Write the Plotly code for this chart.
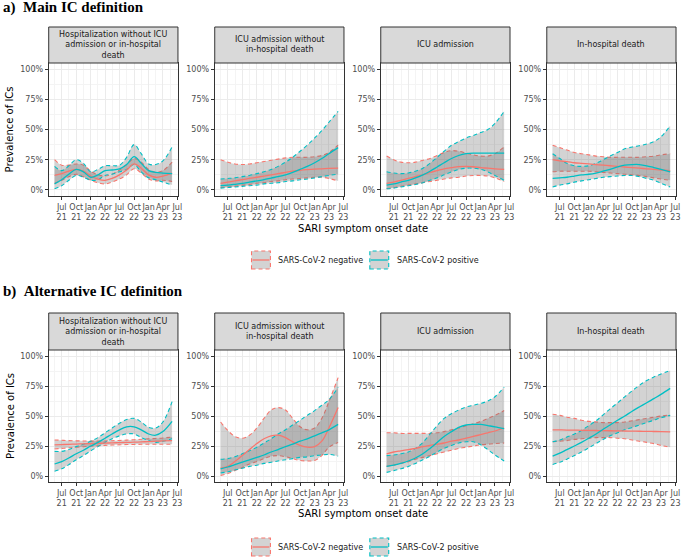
import plotly.graph_objects as go

# ---------------- data ----------------
dates = ["2021-05-17", "2021-07-01", "2021-08-15", "2021-10-01", "2021-11-15",
         "2022-01-01", "2022-02-15", "2022-04-01", "2022-05-15", "2022-07-01",
         "2022-08-15", "2022-10-01", "2022-11-15", "2023-01-01", "2023-02-15",
         "2023-04-01", "2023-05-29"]

facet_titles = ["Hospitalization without ICU<br>admission or in-hospital<br>death",
                "ICU admission without<br>in-hospital death",
                "ICU admission",
                "In-hospital death"]

section_titles = ["<b>a)&nbsp;&nbsp;Main IC definition</b>",
                  "<b>b)&nbsp;&nbsp;Alternative IC definition</b>"]

series_names = ["SARS-CoV-2 negative", "SARS-CoV-2 positive"]

x_tickvals = ["2021-07-01", "2021-10-01", "2022-01-01", "2022-04-01", "2022-07-01",
              "2022-10-01", "2023-01-01", "2023-04-01", "2023-07-01"]
x_ticktext = ["Jul<br>21", "Oct<br>21", "Jan<br>22", "Apr<br>22", "Jul<br>22",
              "Oct<br>22", "Jan<br>23", "Apr<br>23", "Jul<br>23"]
x_minorvals = ["2021-05-16", "2021-08-16", "2021-11-16", "2022-02-15", "2022-05-16",
               "2022-08-16", "2022-11-16", "2023-02-15", "2023-05-16"]
y_tickvals = [0, 25, 50, 75, 100]
y_ticktext = ["0%", "25%", "50%", "75%", "100%"]
y_minorvals = [12.5, 37.5, 62.5, 87.5]

# Main definition -------------------------------------------------
main_hosp_neg_mean = [12, 13.5, 15.5, 17, 15.5, 11.5, 9, 8, 9.5, 12.5, 16.5, 21.5, 18, 12.5, 10.5, 11.5, 14]
main_hosp_neg_hi   = [25, 20.5, 20.5, 21.5, 20.5, 15.5, 12.5, 11.5, 13, 16.5, 21, 26, 23, 17, 14.5, 16, 23]
main_hosp_neg_lo   = [5.5, 8, 11, 13, 11, 8, 6, 5, 6.5, 9, 12.5, 17.5, 14, 9, 7.5, 8, 7]
main_hosp_pos_mean = [5, 8.5, 13, 17, 15, 10.5, 12.5, 16, 16.5, 17.5, 21, 27.5, 22, 16, 14.5, 14, 13.5]
main_hosp_pos_hi   = [19.5, 16, 20, 25, 22, 15, 17, 20, 20, 20.5, 27, 37.5, 30, 21.5, 21, 24, 35.5]
main_hosp_pos_lo   = [1, 3.5, 8, 12, 10.5, 8, 8.5, 12, 13, 15, 17, 21, 15, 10, 8.5, 6.5, 4]

main_icu_nd_neg_mean = [5.5, 6.5, 7.5, 8.5, 9.5, 10.5, 11.5, 12.5, 13.5, 14.5, 15.5, 16.3, 16.8, 17.2, 17.5, 17.8, 18]
main_icu_nd_neg_hi   = [25, 23, 21.5, 21, 21.5, 22.5, 23.5, 24.5, 25.5, 26.5, 27, 27, 27, 27.5, 28.5, 31, 37]
main_icu_nd_neg_lo   = [2, 2.5, 3, 4, 4.5, 5.5, 6, 7, 7.5, 8.5, 9, 9.5, 10, 10.5, 10.5, 9.5, 7.5]
main_icu_nd_pos_mean = [3.5, 4, 4.7, 5.5, 6.5, 7.5, 8.5, 9.8, 11, 12.5, 14.5, 17, 19.5, 22.5, 26, 30, 35]
main_icu_nd_pos_hi   = [9, 9.5, 10, 11, 12, 13.5, 15, 17, 19.5, 23, 27, 32, 37, 43, 49, 56, 65]
main_icu_nd_pos_lo   = [1.5, 2, 2.5, 3, 3.5, 4, 5, 5.5, 6, 7, 7.5, 8.5, 9, 10, 11, 12, 13]

main_icu_neg_mean = [5.5, 6.5, 8, 9.5, 11, 12.5, 14.5, 16, 17.5, 18.5, 19.3, 19.5, 19.2, 18.5, 18, 17.5, 17]
main_icu_neg_hi   = [28, 25, 23, 22.5, 23, 24.5, 26, 28.5, 31, 32.5, 32, 30.5, 29, 28, 28, 30, 35.5]
main_icu_neg_lo   = [1, 2, 3, 4, 5, 6, 7, 8, 9, 10, 10.5, 11.5, 12, 12, 11.5, 10, 7]
main_icu_pos_mean = [4, 5, 6.5, 8, 10, 12.5, 15.5, 19, 22.5, 26, 28.5, 30, 30.5, 30.5, 30.5, 30.5, 30.5]
main_icu_pos_hi   = [15, 14, 13.5, 14, 15.5, 18, 22, 27, 32, 37, 40, 43, 45, 47.5, 50, 55, 65]
main_icu_pos_lo   = [1, 1.5, 2.5, 3.5, 4.5, 6, 8, 10, 12.5, 15, 17, 18, 18, 17, 15, 12, 8]

main_death_neg_mean = [25, 24, 23.5, 22.5, 22, 21.5, 21, 20.5, 20, 19.5, 19, 18.5, 18, 17.5, 17, 16.5, 16]
main_death_neg_hi   = [37, 35, 33, 31, 30, 29, 28, 27.5, 27, 27, 27, 27, 27, 27.5, 28, 29, 30]
main_death_neg_lo   = [15, 15.5, 15.5, 15.5, 15.5, 15.5, 15, 14.5, 14, 13.5, 13, 12.5, 12, 11, 10, 9, 8]
main_death_pos_mean = [9.5, 10, 10.5, 11.5, 12.5, 13, 14, 15.5, 17, 19, 20.5, 21, 21, 20, 18.5, 17, 15]
main_death_pos_hi   = [30, 26, 22, 20, 19.5, 20, 22, 25, 28, 31, 34, 35.5, 36.5, 38, 40, 44, 53]
main_death_pos_lo   = [2.5, 4, 5, 6.5, 7.5, 8.5, 9.5, 10.5, 11, 11.5, 12, 12, 11, 9.5, 8, 5.5, 2.5]

# Alternative definition -----------------------------------------
alt_hosp_neg_mean = [26, 26.2, 26.4, 26.6, 26.8, 27, 27.2, 27.4, 27.6, 27.8, 28, 28.2, 28.4, 28.7, 29, 29.2, 29.5]
alt_hosp_neg_hi   = [30, 29.8, 29.5, 29.3, 29.2, 29.1, 29.1, 29.2, 29.4, 29.6, 29.9, 30.2, 30.6, 31, 31.3, 31.7, 32.5]
alt_hosp_neg_lo   = [22.5, 23, 23.5, 24, 24.4, 24.8, 25.2, 25.5, 25.8, 26, 26.2, 26.3, 26.4, 26.5, 26.5, 26.5, 26.5]
alt_hosp_pos_mean = [10, 12, 15, 18.5, 21.5, 25, 28, 31.5, 35, 38.5, 41, 41, 38.5, 35, 34, 37, 45.5]
alt_hosp_pos_hi   = [20.5, 20.5, 22, 24.5, 26.5, 29, 32, 36, 40, 44, 47, 48, 45, 40.5, 40, 45, 62]
alt_hosp_pos_lo   = [4, 6, 9.5, 13.5, 17, 21, 24.5, 28, 31, 33.5, 35, 35, 32, 29.5, 28, 29, 31]

alt_icu_nd_neg_mean = [6.5, 8, 12, 17, 22, 27, 31, 33.5, 34, 32, 28.5, 25.5, 24, 24.5, 29, 40, 57]
alt_icu_nd_neg_hi   = [45, 38, 33, 31.5, 34, 40, 48, 55, 57, 55, 48, 41, 38.5, 40, 48, 62, 82]
alt_icu_nd_neg_lo   = [0.5, 2, 4.5, 7, 10, 12, 14.5, 16.5, 17, 16, 14.5, 13, 12.5, 13, 17, 24, 28]
alt_icu_nd_pos_mean = [6, 7.5, 9.5, 11.5, 13.5, 15.5, 17.5, 20, 22, 24.5, 26.5, 29, 31, 33.5, 36, 38.5, 43]
alt_icu_nd_pos_hi   = [14, 14.5, 16, 18.5, 21, 24, 27.5, 31, 35, 38.5, 42.5, 46.5, 50.5, 54.5, 59, 63.5, 74]
alt_icu_nd_pos_lo   = [2.5, 3.5, 5, 6.5, 8, 9, 10.5, 11.5, 12.5, 13.5, 14.5, 15.5, 16, 17, 17.5, 18, 16.5]

alt_icu_neg_mean = [18.5, 20, 21, 22, 23, 24.5, 25.5, 26.5, 27.5, 29, 30, 31.5, 33, 34.5, 36, 37.5, 40]
alt_icu_neg_hi   = [36, 36, 35.5, 35.5, 35.5, 35.5, 35.5, 36, 37, 38.5, 40, 42, 43.5, 45.5, 48, 50.5, 54.5]
alt_icu_neg_lo   = [8, 9, 10.5, 12, 14, 15.5, 17, 18.5, 20, 21.5, 23, 24, 25, 26, 26.5, 27, 27.5]
alt_icu_pos_mean = [8, 9, 10.5, 12.5, 15, 18.5, 23, 28, 33, 37, 40.5, 42.5, 43, 43, 42, 41, 39.5]
alt_icu_pos_hi   = [17, 17.5, 18.5, 20, 23, 28, 35, 42, 48, 52, 55, 57.5, 59, 60.5, 62.5, 66, 74]
alt_icu_pos_lo   = [3, 4.5, 6, 8, 10.5, 13.5, 16.5, 20, 23, 25.5, 27.5, 28.5, 28.5, 26, 22, 17.5, 12.5]

alt_death_neg_mean = [38.5, 38.4, 38.3, 38.2, 38.1, 38, 37.9, 37.8, 37.7, 37.6, 37.5, 37.4, 37.3, 37.2, 37.1, 37, 36.8]
alt_death_neg_hi   = [51.5, 50.5, 49, 48, 46.5, 45.5, 45, 44.5, 44.5, 44.5, 45, 46, 47, 48, 49, 50, 51]
alt_death_neg_lo   = [28.5, 29, 29.5, 30.5, 31, 31.5, 32, 32, 32, 31.5, 31, 30, 29, 28, 27, 25.5, 24]
alt_death_pos_mean = [16.5, 19, 22, 25, 28, 31.5, 35, 39, 42.5, 46.5, 50, 54, 57.5, 61, 64.5, 68, 73]
alt_death_pos_hi   = [28.5, 30, 32.5, 35, 38, 42, 46, 51, 56, 61, 66, 71, 75.5, 79.5, 82.5, 85, 88]
alt_death_pos_lo   = [9.5, 11.5, 14, 17, 20, 23.5, 27, 30.5, 33.5, 36, 38.5, 40.5, 42.5, 44.5, 46.5, 48.5, 50.5]

panels_main = [
    (main_hosp_neg_mean, main_hosp_neg_lo, main_hosp_neg_hi, main_hosp_pos_mean, main_hosp_pos_lo, main_hosp_pos_hi),
    (main_icu_nd_neg_mean, main_icu_nd_neg_lo, main_icu_nd_neg_hi, main_icu_nd_pos_mean, main_icu_nd_pos_lo, main_icu_nd_pos_hi),
    (main_icu_neg_mean, main_icu_neg_lo, main_icu_neg_hi, main_icu_pos_mean, main_icu_pos_lo, main_icu_pos_hi),
    (main_death_neg_mean, main_death_neg_lo, main_death_neg_hi, main_death_pos_mean, main_death_pos_lo, main_death_pos_hi),
]
panels_alt = [
    (alt_hosp_neg_mean, alt_hosp_neg_lo, alt_hosp_neg_hi, alt_hosp_pos_mean, alt_hosp_pos_lo, alt_hosp_pos_hi),
    (alt_icu_nd_neg_mean, alt_icu_nd_neg_lo, alt_icu_nd_neg_hi, alt_icu_nd_pos_mean, alt_icu_nd_pos_lo, alt_icu_nd_pos_hi),
    (alt_icu_neg_mean, alt_icu_neg_lo, alt_icu_neg_hi, alt_icu_pos_mean, alt_icu_pos_lo, alt_icu_pos_hi),
    (alt_death_neg_mean, alt_death_neg_lo, alt_death_neg_hi, alt_death_pos_mean, alt_death_pos_lo, alt_death_pos_hi),
]

# ---------------- styling / layout ----------------
W, H = 685, 557
RED, TEAL = "#F8766D", "#00BFC4"
RIBBON = "rgba(110,110,110,0.30)"
FONT = "DejaVu Sans"
panel_left = [49, 216, 383, 550]
panel_w = 130
sections = [
    dict(strip_top=27, top=63, bottom=196, title_y=7, xtitle_y=228, leg_y=260, data=panels_main),
    dict(strip_top=313, top=350, bottom=482, title_y=291, xtitle_y=513, leg_y=547, data=panels_alt),
]


def px(x):
    return x / W


def py(y):
    return 1 - y / H


fig = go.Figure()
shapes, annotations = [], []
layout_axes = {}

idx = 0
for s_i, sec in enumerate(sections):
    for p_i in range(4):
        idx += 1
        xa = "x" if idx == 1 else f"x{idx}"
        ya = "y" if idx == 1 else f"y{idx}"
        nm, nlo, nhi, pm, plo, phi = sec["data"][p_i]
        for (lo, hi, col) in [(nlo, nhi, RED), (plo, phi, TEAL)]:
            fig.add_trace(go.Scatter(x=dates, y=lo, xaxis=xa, yaxis=ya, mode="lines",
                                     line=dict(color=col, width=1.1, dash="4px,3px", shape="spline"),
                                     showlegend=False, hoverinfo="skip"))
            fig.add_trace(go.Scatter(x=dates, y=hi, xaxis=xa, yaxis=ya, mode="lines",
                                     fill="tonexty", fillcolor=RIBBON,
                                     line=dict(color=col, width=1.1, dash="4px,3px", shape="spline"),
                                     showlegend=False, hoverinfo="skip"))
        for (m, col) in [(nm, RED), (pm, TEAL)]:
            fig.add_trace(go.Scatter(x=dates, y=m, xaxis=xa, yaxis=ya, mode="lines",
                                     line=dict(color=col, width=1.3, shape="spline"),
                                     showlegend=False, hoverinfo="skip"))
        L = panel_left[p_i]
        xkey = "xaxis" if idx == 1 else f"xaxis{idx}"
        ykey = "yaxis" if idx == 1 else f"yaxis{idx}"
        layout_axes[xkey] = dict(
            domain=[px(L), px(L + panel_w)], anchor=ya, type="date",
            range=["2021-04-10", "2023-07-05"],
            tickmode="array", tickvals=x_tickvals, ticktext=x_ticktext, tickangle=0,
            ticks="outside", ticklen=3, tickcolor="#333333", tickwidth=1,
            tickfont=dict(family=FONT, size=8, color="#4D4D4D"),
            showgrid=True, gridcolor="#EBEBEB", gridwidth=1,
            minor=dict(tickmode="array", tickvals=x_minorvals, showgrid=True,
                       gridcolor="#F4F4F4", gridwidth=0.6, ticks=""),
            showline=True, mirror=True, linecolor="#333333", linewidth=1,
            zeroline=False, fixedrange=True)
        layout_axes[ykey] = dict(
            domain=[py(sec["bottom"]), py(sec["top"])], anchor=xa,
            range=[-5, 105],
            tickmode="array", tickvals=y_tickvals, ticktext=y_ticktext,
            ticks="outside", ticklen=3, tickcolor="#333333", tickwidth=1,
            tickfont=dict(family=FONT, size=8, color="#4D4D4D"),
            showgrid=True, gridcolor="#EBEBEB", gridwidth=1,
            minor=dict(tickmode="array", tickvals=y_minorvals, showgrid=True,
                       gridcolor="#F4F4F4", gridwidth=0.6, ticks=""),
            showline=True, mirror=True, linecolor="#333333", linewidth=1,
            zeroline=False, fixedrange=True)
        shapes.append(dict(type="rect", xref="paper", yref="paper",
                           x0=px(L), x1=px(L + panel_w), y0=py(sec["top"]), y1=py(sec["strip_top"]),
                           fillcolor="#D9D9D9", line=dict(color="#333333", width=1), layer="above"))
        annotations.append(dict(xref="paper", yref="paper", x=px(L + panel_w / 2),
                                y=py((sec["top"] + sec["strip_top"]) / 2),
                                text=facet_titles[p_i], showarrow=False,
                                font=dict(family=FONT, size=8, color="#1A1A1A"),
                                xanchor="center", yanchor="middle"))
    annotations.append(dict(xref="paper", yref="paper", x=px(1), y=py(sec["title_y"]),
                            text=section_titles[s_i], showarrow=False,
                            font=dict(family="Liberation Serif", size=15, color="black"),
                            xanchor="left", yanchor="middle"))
    annotations.append(dict(xref="paper", yref="paper", x=px(10),
                            y=py((sec["top"] + sec["bottom"]) / 2),
                            text="Prevalence of ICs", showarrow=False, textangle=-90,
                            font=dict(family=FONT, size=10, color="black"),
                            xanchor="center", yanchor="middle"))
    annotations.append(dict(xref="paper", yref="paper", x=px(365), y=py(sec["xtitle_y"]),
                            text="SARI symptom onset date", showarrow=False,
                            font=dict(family=FONT, size=10, color="black"),
                            xanchor="center", yanchor="middle"))
    ly = sec["leg_y"]
    for k, (kx, col) in enumerate([(253, RED), (372, TEAL)]):
        shapes.append(dict(type="rect", xref="paper", yref="paper",
                           x0=px(kx), x1=px(kx + 19), y0=py(ly + 9), y1=py(ly - 9),
                           fillcolor=RIBBON, line=dict(color=col, width=1.1, dash="4px,3px")))
        shapes.append(dict(type="line", xref="paper", yref="paper",
                           x0=px(kx + 1), x1=px(kx + 18), y0=py(ly), y1=py(ly),
                           line=dict(color=col, width=1.3)))
        annotations.append(dict(xref="paper", yref="paper", x=px(kx + 25), y=py(ly),
                                text=series_names[k], showarrow=False,
                                font=dict(family=FONT, size=8, color="#1A1A1A"),
                                xanchor="left", yanchor="middle"))

fig.update_layout(
    width=W, height=H, margin=dict(l=0, r=0, t=0, b=0),
    paper_bgcolor="white", plot_bgcolor="white",
    showlegend=False, shapes=shapes, annotations=annotations,
    font=dict(family=FONT),
    **layout_axes)

fig.write_html("out.html")
